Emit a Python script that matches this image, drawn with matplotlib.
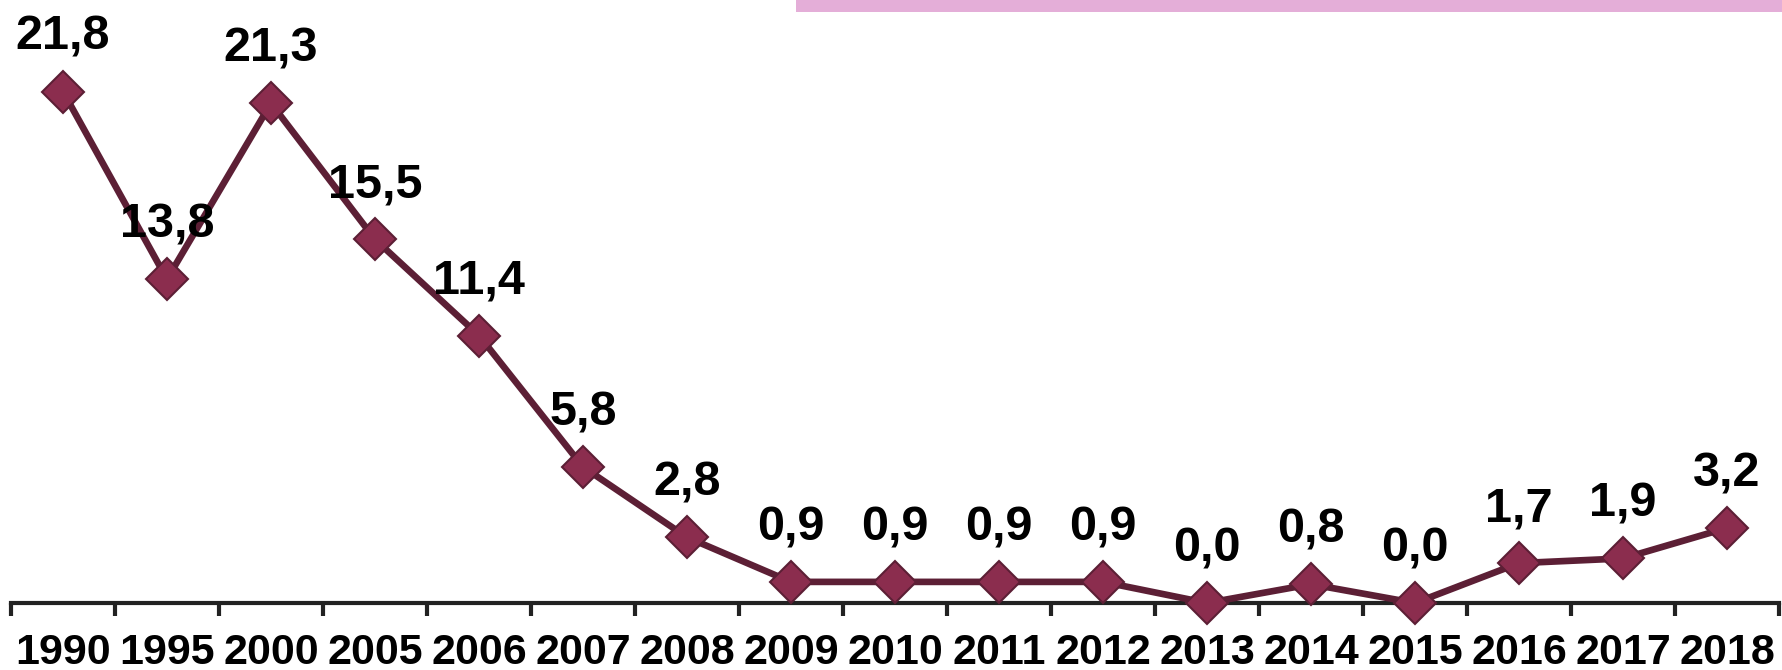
import matplotlib
matplotlib.use("Agg")
import matplotlib.pyplot as plt
from matplotlib.patches import Rectangle
from matplotlib import font_manager

years = ["1990", "1995", "2000", "2005", "2006", "2007", "2008", "2009", "2010",
         "2011", "2012", "2013", "2014", "2015", "2016", "2017", "2018"]
values = [21.8, 13.8, 21.3, 15.5, 11.4, 5.8, 2.8, 0.9, 0.9, 0.9, 0.9, 0.0, 0.8,
          0.0, 1.7, 1.9, 3.2]
labels = [f"{v:.1f}".replace(".", ",") for v in values]

plt.rcParams['font.family'] = ['Liberation Sans', 'DejaVu Sans']

names = {f.name for f in font_manager.fontManager.ttflist}
narrow = "Liberation Sans Narrow" in names
tick_family = ['Liberation Sans Narrow', 'Liberation Sans'] if narrow else ['Liberation Sans']
tick_size = 35 if narrow else 31

W, H = 1783, 670
fig = plt.figure(figsize=(W / 100, H / 100), dpi=100)
fig.patch.set_facecolor("white")
ax = fig.add_axes([11 / W, (H - 603) / H, (1779 - 11) / W, 603 / H])

x = list(range(len(years)))
ax.plot(x, values, color="#5C1F35", lw=4.8, marker="D", markersize=21.5,
        markerfacecolor="#8B2D4E", markeredgecolor="#5C1F35", markeredgewidth=1.5,
        clip_on=False, zorder=3)

for xi, v, lab in zip(x, values, labels):
    ax.annotate(lab, (xi, v), xytext=(0, 30), textcoords="offset points",
                ha="center", va="baseline", fontsize=35, fontweight="bold",
                color="black", annotation_clip=False)

ax.set_xlim(-0.5, len(years) - 0.5)
ax.set_ylim(0, 25.7)

# ticks at category boundaries, labels at centres
ax.set_xticks([i - 0.5 for i in range(len(years) + 1)])
ax.set_xticklabels([])
ax.set_xticks(x, minor=True)
ax.set_xticklabels(years, minor=True, fontsize=tick_size, fontweight="bold",
                   family=tick_family)
ax.tick_params(axis="x", which="major", direction="out", length=9.5, width=3,
               color="#222222")
ax.tick_params(axis="x", which="minor", length=0, pad=21.5)
ax.set_yticks([])

for s in ["top", "right", "left"]:
    ax.spines[s].set_visible(False)
ax.spines["bottom"].set_linewidth(3)
ax.spines["bottom"].set_color("#222222")
ax.set_facecolor("none")

fig.patches.append(Rectangle((796 / W, (H - 12) / H), 1 - 796 / W, 12 / H,
                             transform=fig.transFigure, facecolor="#E4AED8",
                             edgecolor="none", zorder=0))

fig.savefig("out.png", dpi=100, facecolor="white")
